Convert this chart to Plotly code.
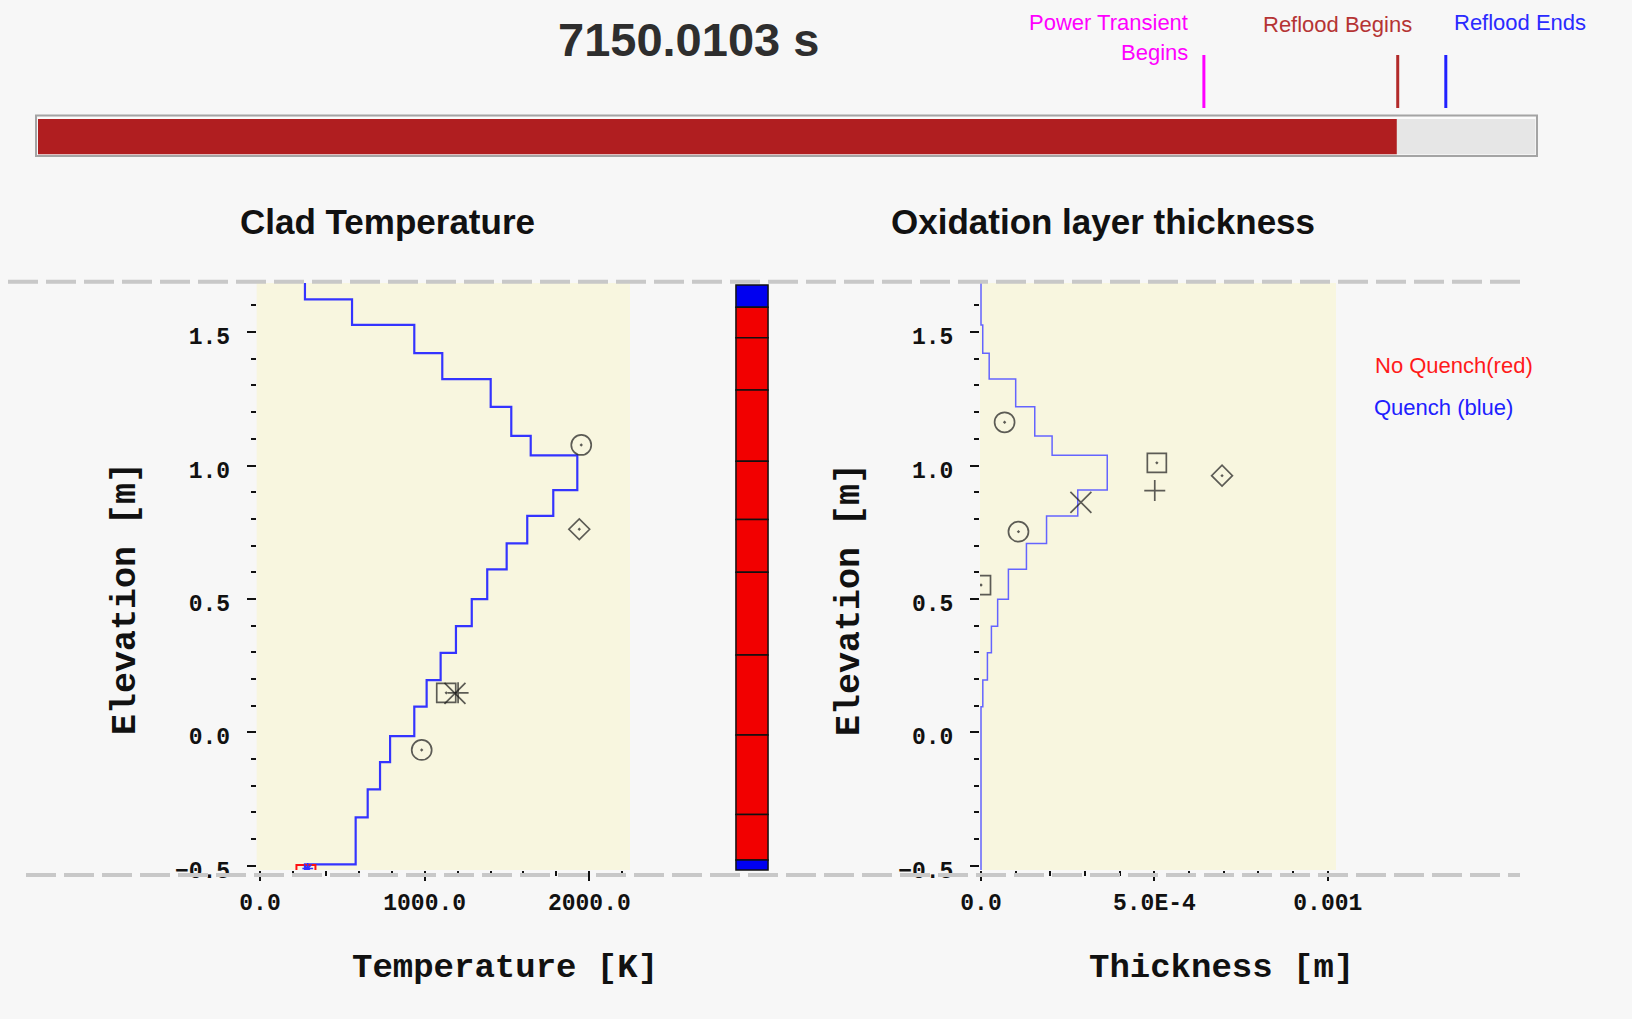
import plotly.graph_objects as go

W, H = 1632, 1019

# ---- transient time line -------------------------------------------------
current_time = 7150.0103
time_start, time_end = 0.0, 7880.0
event_times = [6135.0, 7155.0, 7408.0]          # power transient, reflood begins, reflood ends
event_colors = ["#ff00ff", "#b22a2a", "#2020ff"]

# ---- axial nodes (elevation boundaries, m, top to bottom) ----------------
node_edges = [1.70, 1.623, 1.527, 1.421, 1.324, 1.220, 1.111, 1.038, 0.908, 0.811,
              0.708, 0.611, 0.499, 0.398, 0.298, 0.196, 0.096, -0.014, -0.112,
              -0.214, -0.319, -0.495, -0.52]
clad_temp = [273, 559, 937, 1107, 1401, 1526, 1644, 1927, 1781, 1623, 1498,
             1380, 1286, 1190, 1097, 1012, 937, 790, 729, 654, 581, 273]
oxide_thick = [0.0, 0.0, 5.0e-6, 2.36e-5, 1.0e-4, 1.55e-4, 2.05e-4, 3.64e-4,
               2.79e-4, 1.89e-4, 1.31e-4, 7.9e-5, 4.8e-5, 3.0e-5, 1.85e-5,
               5.2e-6, 0.0, 0.0, 0.0, 0.0, 0.0, 0.0]

# ---- measured thermocouple / oxide data ----------------------------------
temp_meas_symbol = ["circle-open-dot", "diamond-open-dot", "square-open-dot",
                    "x-thin-open", "cross-thin-open", "circle-open-dot"]
temp_meas_T = [1951, 1939, 1131, 1184, 1203, 982]
temp_meas_z = [1.077, 0.761, 0.148, 0.146, 0.148, -0.066]

oxide_meas_symbol = ["circle-open-dot", "square-open-dot", "cross-thin-open",
                     "diamond-open-dot", "x-thin-open", "circle-open-dot",
                     "square-open-dot"]
oxide_meas_t = [6.8e-5, 5.07e-4, 5.01e-4, 6.95e-4, 2.88e-4, 1.08e-4, 0.0]
oxide_meas_z = [1.162, 1.010, 0.906, 0.962, 0.862, 0.752, 0.552]

# bottom node quench status markers
no_quench_T, no_quench_z = [279], [-0.533]
quench_T, quench_z = [290], [-0.510]

# ---- hydraulic cells of the channel (elevation boundaries, quench state) --
cell_edges = [1.676, 1.593, 1.479, 1.283, 1.016, 0.797, 0.600, 0.290,
              -0.010, -0.308, -0.479, -0.516]
cell_quenched = [True, False, False, False, False, False, False, False,
                 False, False, True]

# ---- tick labels ---------------------------------------------------------
temp_ticks, temp_tick_text = [0, 1000, 2000], ["0.0", "1000.0", "2000.0"]
thick_ticks, thick_tick_text = [0.0, 5.0e-4, 1.0e-3], ["0.0", "5.0E-4", "0.001"]
elev_ticks = [-0.5, 0.0, 0.5, 1.0, 1.5]
elev_tick_text = ["\u22120.5", "0.0", "0.5", "1.0", "1.5"]

ELEV_RANGE = [-0.516, 1.684]


def px_x(x):
    return x / W


def px_y(y):
    return 1 - y / H


def step_profile(values, edges):
    xs, ys = [], []
    for v, top, bot in zip(values, edges[:-1], edges[1:]):
        xs += [v, v]
        ys += [top, bot]
    return xs, ys


MONO = "Liberation Mono"
SANS = "Liberation Sans"
marker_sizes = {"circle-open-dot": 20, "square-open-dot": 19, "diamond-open-dot": 16,
                "x-thin-open": 21, "cross-thin-open": 15}

fig = go.Figure()

# clad temperature profile
tx, tz = step_profile(clad_temp, node_edges)
fig.add_trace(go.Scatter(x=tx, y=tz, mode="lines", line=dict(color="#3434ff", width=2.2),
                         xaxis="x", yaxis="y"))
fig.add_trace(go.Scatter(x=no_quench_T, y=no_quench_z, mode="markers",
                         marker=dict(symbol="square-open", size=19, color="#ff1010",
                                     line=dict(width=2)), xaxis="x", yaxis="y"))
fig.add_trace(go.Scatter(x=quench_T, y=quench_z, mode="markers",
                         marker=dict(symbol="asterisk-open", size=9, color="#3030ff",
                                     line=dict(width=1.5)), xaxis="x", yaxis="y"))
fig.add_trace(go.Scatter(x=temp_meas_T, y=temp_meas_z, mode="markers",
                         marker=dict(symbol=temp_meas_symbol,
                                     size=[marker_sizes[s] for s in temp_meas_symbol],
                                     color="#1a1a1a", line=dict(width=1.7)),
                         xaxis="x", yaxis="y"))

# oxidation layer profile
ox, oz = step_profile(oxide_thick, node_edges)
fig.add_trace(go.Scatter(x=ox, y=oz, mode="lines", line=dict(color="#6464ff", width=1.5),
                         xaxis="x2", yaxis="y2"))
fig.add_trace(go.Scatter(x=oxide_meas_t, y=oxide_meas_z, mode="markers",
                         marker=dict(symbol=oxide_meas_symbol,
                                     size=[marker_sizes[s] for s in oxide_meas_symbol],
                                     color="#1a1a1a", line=dict(width=1.7)),
                         xaxis="x2", yaxis="y2"))

# channel cell column
cell_tops, cell_bots = cell_edges[:-1], cell_edges[1:]
fig.add_trace(go.Bar(x=[0] * len(cell_tops),
                     y=[t - b for t, b in zip(cell_tops, cell_bots)],
                     base=cell_bots, width=1,
                     marker=dict(color=["#0000f0" if q else "#f20000" for q in cell_quenched],
                                 line=dict(color="#111111", width=1.5)),
                     xaxis="x3", yaxis="y3"))

# time progress bar
fig.add_trace(go.Bar(y=[0], x=[time_end - time_start], base=[time_start], orientation="h",
                     width=1, marker=dict(color="#e6e6e6", line=dict(width=0)),
                     xaxis="x4", yaxis="y4"))
fig.add_trace(go.Bar(y=[0], x=[current_time - time_start], base=[time_start], orientation="h",
                     width=1, marker=dict(color="#b01e20", line=dict(width=0)),
                     xaxis="x4", yaxis="y4"))

tick_font = dict(family=MONO, size=23, color="#111111", weight="bold")
plot_y_domain = [px_y(870), px_y(283)]


def elev_axis(anchor):
    return dict(domain=plot_y_domain, range=ELEV_RANGE, anchor=anchor, automargin=False,
                tickmode="array", tickvals=elev_ticks, ticktext=elev_tick_text,
                ticks="outside", ticklen=9, tickwidth=2, tickcolor="#111111",
                tickfont=tick_font, ticklabelstandoff=12, ticklabelshift=4,
                minor=dict(tickmode="linear", tick0=0, dtick=0.1, ticks="outside",
                           ticklen=5, tickwidth=2, tickcolor="#111111"),
                showgrid=False, zeroline=False, showline=False, fixedrange=True)


def thick_like_axis(domain, rng, anchor, tickvals, ticktext, minor_dtick):
    return dict(domain=domain, range=rng, anchor=anchor, automargin=False,
                tickmode="array", tickvals=tickvals, ticktext=ticktext,
                ticks="outside", ticklen=10, tickwidth=2, tickcolor="#111111",
                tickfont=tick_font, ticklabelstandoff=1,
                minor=dict(tickmode="linear", tick0=0, dtick=minor_dtick, ticks="outside",
                           ticklen=5, tickwidth=2, tickcolor="#111111"),
                showgrid=False, zeroline=False, showline=False, fixedrange=True)


shapes = []
# beige plotting panels
for ax in ["x", "x2"]:
    yax = "y" if ax == "x" else "y2"
    shapes.append(dict(type="rect", xref=f"{ax} domain", yref=f"{yax} domain",
                       x0=0, x1=1, y0=0, y1=1, fillcolor="#f8f6df",
                       line=dict(width=0), layer="below"))
# dashed heated-length limits
shapes.append(dict(type="line", xref="paper", yref="paper", x0=px_x(8), x1=px_x(1525),
                   y0=px_y(281.7), y1=px_y(281.7),
                   line=dict(color="#c8c8c8", width=4, dash="30px,8px")))
shapes.append(dict(type="line", xref="paper", yref="paper", x0=px_x(26), x1=px_x(1520),
                   y0=px_y(875), y1=px_y(875),
                   line=dict(color="#c8c8c8", width=4, dash="30px,8px")))
# progress bar frame
shapes.append(dict(type="rect", xref="paper", yref="paper", x0=px_x(36), x1=px_x(1537),
                   y0=px_y(156), y1=px_y(115.5), line=dict(color="#a4a4a4", width=2)))
shapes.append(dict(type="line", xref="paper", yref="paper", x0=px_x(38), x1=px_x(1535),
                   y0=px_y(118), y1=px_y(118), line=dict(color="#fbfbfb", width=2)))
# event markers on the time line
for t, c in zip(event_times, event_colors):
    shapes.append(dict(type="line", xref="x4", yref="paper", x0=t, x1=t,
                       y0=px_y(108), y1=px_y(55), line=dict(color=c, width=3)))


def label(text, x, y, size, color="#111111", family=SANS, weight="normal",
          xanchor="center", angle=0):
    return dict(text=text, x=px_x(x), y=px_y(y), xref="paper", yref="paper",
                showarrow=False, xanchor=xanchor, yanchor="middle", textangle=angle,
                font=dict(family=family, size=size, color=color, weight=weight))


annotations = [
    label(f"{current_time:.4f} s", 688, 40, 47, color="#2e2e2e", weight="bold"),
    label("Power Transient", 1190, 23, 22, color="#ff00ff", xanchor="right"),
    label("Begins", 1190, 53, 22, color="#ff00ff", xanchor="right"),
    label("Reflood Begins", 1337, 25, 22, color="#b53434"),
    label("Reflood Ends", 1520, 22, 22, color="#2a2aff"),
    label("Clad Temperature", 387, 221, 35, weight="bold"),
    label("Oxidation layer thickness", 1103, 221, 35, weight="bold"),
    label("Temperature [K]", 505, 968, 34, family=MONO, weight="bold"),
    label("Thickness [m]", 1221, 968, 34, family=MONO, weight="bold"),
    label("Elevation [m]", 126, 599, 35, family=MONO, weight="bold", angle=-90),
    label("Elevation [m]", 850, 600, 35, family=MONO, weight="bold", angle=-90),
    label("No Quench(red)", 1373, 365, 22, color="#ff1a1a", xanchor="left"),
    label("Quench (blue)", 1372, 407, 22, color="#2020ff", xanchor="left"),
]

fig.update_layout(
    template="none",
    width=W, height=H, margin=dict(l=0, r=0, t=0, b=0, pad=0), autosize=False,
    paper_bgcolor="#f7f7f7", plot_bgcolor="rgba(0,0,0,0)",
    showlegend=False, barmode="overlay", hovermode=False,
    xaxis=thick_like_axis([px_x(256.7), px_x(630)], [-20, 2247], "y",
                          temp_ticks, temp_tick_text, 200),
    yaxis=elev_axis("x"),
    xaxis2=thick_like_axis([px_x(980), px_x(1336)], [-2.9e-6, 1.0236e-3], "y2",
                           thick_ticks, thick_tick_text, 1e-4),
    yaxis2=elev_axis("x2"),
    xaxis3=dict(domain=[px_x(735), px_x(769)], range=[-0.53, 0.53], anchor="y3",
                visible=False, automargin=False),
    yaxis3=dict(domain=[px_y(871), px_y(284)], range=[-0.52, 1.68], anchor="x3",
                visible=False, automargin=False),
    xaxis4=dict(domain=[px_x(38), px_x(1535.5)], range=[time_start, time_end], anchor="y4",
                visible=False, automargin=False),
    yaxis4=dict(domain=[px_y(154.5), px_y(119)], range=[-0.5, 0.5], anchor="x4",
                visible=False, automargin=False),
    shapes=shapes,
    annotations=annotations,
)

fig.write_html("out.html")
